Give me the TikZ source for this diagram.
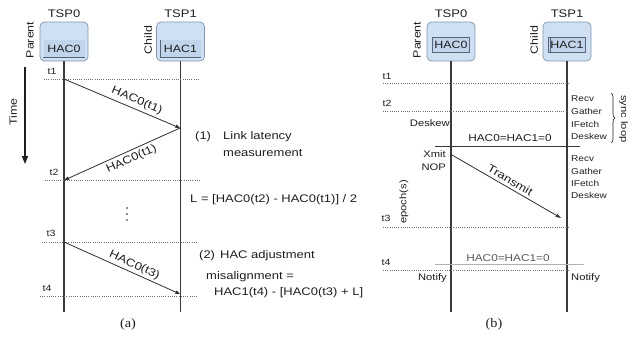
\documentclass[tikz,border=0pt]{standalone}
\usepackage{fontspec}
\setmainfont{Liberation Sans}[FakeStretch=1.18]
\newfontfamily\capfont{Liberation Serif}[FakeStretch=1.1]
\usetikzlibrary{arrows.meta,decorations.pathreplacing}

\definecolor{boxfill}{HTML}{CFE0F2}
\definecolor{boxline}{HTML}{8295AE}
\definecolor{hacfill}{HTML}{C0D4EB}
\definecolor{hacline}{HTML}{56657A}
\definecolor{lifecol}{HTML}{3A3A3A}
\definecolor{dotcol}{HTML}{707070}
\definecolor{msgcol}{HTML}{2E2E2E}
\definecolor{txt}{HTML}{1E1E1E}
\definecolor{faint}{HTML}{5A5A5A}

\begin{document}
\begin{tikzpicture}[x=1pt,y=-1pt,
  every node/.style={inner sep=0pt, text=txt},
  tsp/.style={draw=boxline, fill=boxfill, rounded corners=4.5pt, line width=0.7pt,
              minimum width=48pt, minimum height=39pt},
  hac/.style={fill=hacfill, minimum width=41pt, minimum height=17pt,
              font=\fontsize{10.5}{12}\selectfont},
  hacframe/.style={draw=hacline, line width=0.6pt},
  tsplabel/.style={font=\fontsize{11}{13}\selectfont},
  role/.style={rotate=90, font=\fontsize{10.5}{12}\selectfont},
  life/.style={draw=lifecol, line width=1.4pt},
  tick/.style={draw=dotcol, line width=0.8pt, dash pattern=on 0.8pt off 1.4pt},
  tlabel/.style={font=\fontsize{9}{10}\selectfont},
  msg/.style={draw=msgcol, line width=0.8pt, -{Triangle[length=4.5pt,width=3.5pt]}},
  msglabel/.style={font=\fontsize{11}{13}\selectfont, sloped},
  body/.style={font=\fontsize{11}{13}\selectfont, anchor=west},
  stage/.style={font=\fontsize{8.5}{10}\selectfont, anchor=west},
  side/.style={font=\fontsize{9.5}{11}\selectfont},
  caption/.style={font=\capfont\fontsize{13}{15}\selectfont},
]
\useasboundingbox (0,0) rectangle (631,349);

% ---------------- (a) link latency measurement and HAC adjustment ----------------
\node[tsp] (tspA0) at (64,41.5) {};
\node[tsp] (tspA1) at (180.5,41.5) {};
\node[hac] (hacA0) at (64,48.5) {HAC0};
\node[hac] (hacA1) at (180.5,48.5) {HAC1};
\draw[hacframe] (hacA0.south west) -- (hacA0.south east);
\draw[hacframe] (hacA1.north west) -- (hacA1.south west) -- (hacA1.south east);
\node[tsplabel] (tspA0lbl) at (64,14) {TSP0};
\node[tsplabel] (tspA1lbl) at (180.5,14) {TSP1};
\node[role] (parentA) at (30,40) {Parent};
\node[role] (childA) at (148,40) {Child};

\coordinate (a0end) at (64,312);
\coordinate (a1end) at (180.5,312);
\draw[life] (tspA0.south) -- (a0end);
\draw[life] (tspA1.south) -- (a1end);

% time axis
\coordinate (timetop) at (25,67);
\coordinate (timebot) at (25,164);
\draw[draw=txt, line width=1.5pt, -{Triangle[length=8pt,width=6pt]}] (timetop) -- (timebot);
\node[role] (timelbl) at (13,112) {Time};

% time marks
\draw[tick] (44,79) -- (200,79);
\draw[tick] (45,180) -- (200,180);
\draw[tick] (42,242) -- (198,242);
\draw[tick] (40,296) -- (197,296);
\node[tlabel] (tA1) at (52,71) {t1};
\node[tlabel] (tA2) at (54,172) {t2};
\node[tlabel] (tA3) at (51,233) {t3};
\node[tlabel] (tA4) at (47,288) {t4};

% messages
\coordinate (p1) at (64,79);
\coordinate (q1) at (180,128);
\coordinate (p2) at (64.5,180);
\coordinate (p3) at (64,242);
\coordinate (q3) at (180,294);
\draw[msg] (p1) -- node[msglabel, pos=0.6, above=3pt] (m1) {HAC0(t1)} (q1);
\draw[msg] (q1) -- node[msglabel, pos=0.45, below=3pt] (m2) {HAC0(t1)} (p2);
\draw[msg] (p3) -- node[msglabel, pos=0.58, above=2pt] (m3) {HAC0(t3)} (q3);

% gap marker
\foreach \yy [count=\i] in {208,214,220}
  \fill[txt] (127,\yy) circle (0.8pt) coordinate (gap\i);

% notes
\node[body] (n1) at (195,137) {(1)};
\node[body] (n1a) at (223,137) {Link latency};
\node[body] (n1b) at (223,153) {measurement};
\node[body] (eqL) at (190,200) {L = [HAC0(t2) - HAC0(t1)] / 2};
\node[body] (n2) at (199,256) {(2)};
\node[body] (n2a) at (220,256) {HAC adjustment};
\node[body] (n2b) at (206,277) {misalignment =};
\node[body] (n2c) at (214,293) {HAC1(t4) - [HAC0(t3) + L]};

\node[caption] (capA) at (128,324) {(a)};

% ---------------- (b) synchronization loop ----------------
\node[tsp] (tspB0) at (451,41.5) {};
\node[tsp] (tspB1) at (567,41.5) {};
\node[hac, minimum width=37pt, minimum height=15pt] (hacB0) at (451,45) {HAC0};
\node[hac, minimum width=37pt, minimum height=15pt] (hacB1) at (567,45) {HAC1};
\draw[hacframe] (hacB0.south west) rectangle (hacB0.north east);
\draw[hacframe] (hacB1.south west) rectangle (hacB1.north east);
\draw[hacframe] ([xshift=2pt]hacB1.south west) -- ([xshift=2pt]hacB1.north west);
\node[tsplabel] (tspB0lbl) at (451,14) {TSP0};
\node[tsplabel] (tspB1lbl) at (567,14) {TSP1};
\node[role] (parentB) at (417,40) {Parent};
\node[role] (childB) at (534,40) {Child};

\coordinate (b0end) at (451,312);
\coordinate (b1end) at (567,312);
\draw[life] (tspB0.south) -- (b0end);
\draw[life] (tspB1.south) -- (b1end);

% time marks
\draw[tick] (383,83) -- (570,83);
\draw[tick] (383,111) -- (566,111);
\draw[tick] (383,227) -- (568,227);
\draw[tick] (383,270) -- (570,270);
\node[tlabel] (tB1) at (387,76) {t1};
\node[tlabel] (tB2) at (387,103) {t2};
\node[tlabel] (tB3) at (386,218) {t3};
\node[tlabel] (tB4) at (386,262) {t4};

% child pipeline stages, first pass
\node[stage] (r1) at (571,99) {Recv};
\node[stage] (g1) at (571,111.5) {Gather};
\node[stage] (f1) at (571,124) {IFetch};
\node[stage] (d1) at (571,136.5) {Deskew};
\coordinate (brtop) at (611,93);
\coordinate (brbot) at (611,143);
\draw[draw=txt, line width=0.6pt, decorate, decoration={brace, amplitude=4pt}] (brtop) -- (brbot);
\node[rotate=-90, font=\fontsize{9.5}{11}\selectfont] (syncl) at (623.5,119) {sync loop};

% parent deskew and counter reset
\node[side, anchor=east] (pdesk) at (450,123) {Deskew};
\coordinate (z1l) at (435,146);
\coordinate (z1r) at (580,146);
\draw[draw=lifecol, line width=1pt] (z1l) -- (z1r);
\node[font=\fontsize{10}{12}\selectfont] (z1) at (510,138) {HAC0=HAC1=0};

% transmit
\node[side, anchor=east] (xmit) at (446,154) {Xmit};
\node[side, anchor=east] (nop) at (446,167) {NOP};
\coordinate (tx0) at (452,155);
\coordinate (tx1) at (561,218);
\draw[draw=msgcol, line width=0.8pt, -{Stealth[length=6pt,width=4pt]}] (tx0) -- node[msglabel, pos=0.5, above=3pt] (txl) {Transmit} (tx1);

% child pipeline stages, second pass
\node[stage] (r2) at (571,159) {Recv};
\node[stage] (g2) at (571,171) {Gather};
\node[stage] (f2) at (571,183) {IFetch};
\node[stage] (d2) at (571,195.5) {Deskew};

\node[rotate=90, font=\fontsize{9.5}{11}\selectfont] (epoch) at (404,202) {epoch(s)};

% second counter reset
\coordinate (z2l) at (435,264);
\coordinate (z2r) at (584,264);
\draw[draw=black!30, line width=0.5pt] (z2l) -- (z2r);
\node[font=\fontsize{10}{12}\selectfont, text=faint] (z2) at (508,258) {HAC0=HAC1=0};

\node[side, anchor=east] (ntfy0) at (447,278) {Notify};
\node[side, anchor=west] (ntfy1) at (571,278) {Notify};

\node[caption] (capB) at (494,324) {(b)};
\end{tikzpicture}
\end{document}
